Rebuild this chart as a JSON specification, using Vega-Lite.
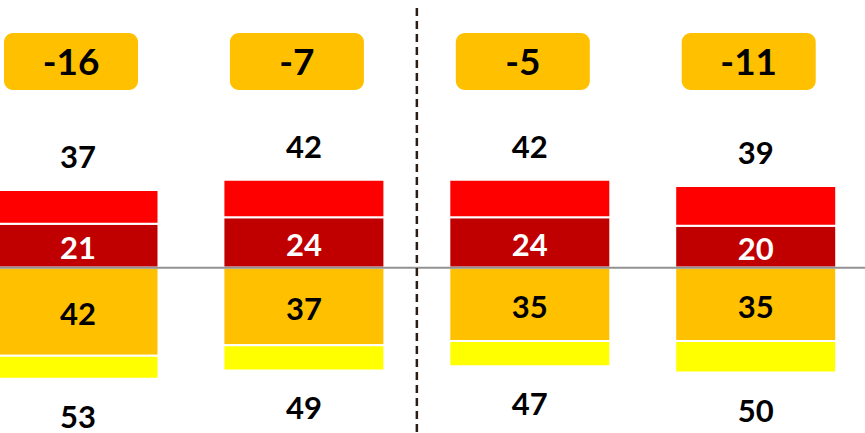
{
  "$schema": "https://vega.github.io/schema/vega-lite/v6.json",
  "width": 865,
  "height": 433,
  "padding": 0,
  "autosize": {"type": "none"},
  "background": "white",
  "config": {
    "view": {"stroke": null},
    "locale": {"number": {"decimal": ".", "thousands": ",", "grouping": [3], "currency": ["$", ""], "minus": "-"}}
  },
  "datasets": {
    "segments": [
      {"i": 0, "seg": "strong", "v": 21, "o": 1, "label": 21},
      {"i": 0, "seg": "pos", "v": 16, "o": 2, "label": 37},
      {"i": 0, "seg": "main", "v": -42, "o": 1, "label": 42},
      {"i": 0, "seg": "neg", "v": -11, "o": 2, "label": 53},
      {"i": 1, "seg": "strong", "v": 24, "o": 1, "label": 24},
      {"i": 1, "seg": "pos", "v": 18, "o": 2, "label": 42},
      {"i": 1, "seg": "main", "v": -37, "o": 1, "label": 37},
      {"i": 1, "seg": "neg", "v": -12, "o": 2, "label": 49},
      {"i": 2, "seg": "strong", "v": 24, "o": 1, "label": 24},
      {"i": 2, "seg": "pos", "v": 18, "o": 2, "label": 42},
      {"i": 2, "seg": "main", "v": -35, "o": 1, "label": 35},
      {"i": 2, "seg": "neg", "v": -12, "o": 2, "label": 47},
      {"i": 3, "seg": "strong", "v": 20, "o": 1, "label": 20},
      {"i": 3, "seg": "pos", "v": 19, "o": 2, "label": 39},
      {"i": 3, "seg": "main", "v": -35, "o": 1, "label": 35},
      {"i": 3, "seg": "neg", "v": -15, "o": 2, "label": 50}
    ],
    "groups": [
      {"i": 0, "net": -16},
      {"i": 1, "net": -7},
      {"i": 2, "net": -5},
      {"i": 3, "net": -11}
    ]
  },
  "layer": [
    {
      "data": {"name": "segments"},
      "mark": {"type": "bar", "orient": "vertical", "width": 161, "stroke": "white", "strokeWidth": 2},
      "encoding": {
        "x": {"field": "i", "type": "quantitative", "scale": {"domain": [-0.3453, 3.4838], "nice": false, "zero": false, "padding": 0}, "axis": null},
        "y": {"field": "v", "type": "quantitative", "stack": "zero", "scale": {"domain": [-78.83, 127.66], "nice": false, "zero": false, "padding": 0}, "axis": null},
        "color": {"field": "seg", "type": "nominal", "scale": {"domain": ["pos", "strong", "main", "neg"], "range": ["#FF0000", "#C00000", "#FFC000", "#FFFF00"]}, "legend": null},
        "order": {"field": "o"}
      }
    },
    {
      "data": {"values": [{}]},
      "mark": {"type": "rule", "color": "#929292", "strokeWidth": 2},
      "encoding": {"y": {"datum": 0, "type": "quantitative"}}
    },
    {
      "data": {"values": [{}]},
      "mark": {"type": "rule", "color": "#2A1D14", "strokeWidth": 2.5, "strokeDash": [8, 5]},
      "encoding": {
        "x": {"datum": 1.5, "type": "quantitative"},
        "y": {"datum": 123.8, "type": "quantitative"},
        "y2": {"datum": -78.83}
      }
    },
    {
      "data": {"name": "groups"},
      "mark": {"type": "bar", "orient": "vertical", "width": 134, "cornerRadius": 9, "xOffset": -7, "color": "#FFC000"},
      "encoding": {
        "x": {"field": "i", "type": "quantitative"},
        "y": {"datum": 111.9, "type": "quantitative"},
        "y2": {"datum": 84.8}
      }
    },
    {
      "data": {"name": "groups"},
      "mark": {"type": "text", "font": "Lato", "fontWeight": "bold", "fontSize": 37, "color": "black", "baseline": "middle", "align": "center", "xOffset": -7},
      "encoding": {
        "x": {"field": "i", "type": "quantitative"},
        "y": {"datum": 97, "type": "quantitative"},
        "text": {"field": "net", "type": "quantitative"}
      }
    },
    {
      "data": {"name": "segments"},
      "mark": {"type": "text", "font": "Lato", "fontWeight": "bold", "fontSize": 31, "baseline": "middle", "align": "center", "dy": 4.5},
      "encoding": {
        "x": {"field": "i", "type": "quantitative"},
        "y": {"field": "v", "type": "quantitative", "stack": "zero", "bandPosition": 0.5},
        "detail": {"field": "seg"},
        "order": {"field": "o"},
        "text": {"field": "label", "type": "quantitative"},
        "color": {"condition": {"test": "datum.seg == 'strong'", "value": "white"}, "value": "black"},
        "opacity": {"condition": {"test": "datum.seg == 'strong' || datum.seg == 'main'", "value": 1}, "value": 0}
      }
    },
    {
      "data": {"name": "segments"},
      "mark": {"type": "text", "font": "Lato", "fontWeight": "bold", "fontSize": 31, "baseline": "middle", "align": "center", "dy": -31, "color": "black"},
      "encoding": {
        "x": {"field": "i", "type": "quantitative"},
        "y": {"field": "v", "type": "quantitative", "stack": "zero"},
        "detail": {"field": "seg"},
        "order": {"field": "o"},
        "text": {"field": "label", "type": "quantitative"},
        "opacity": {"condition": {"test": "datum.seg == 'pos'", "value": 1}, "value": 0}
      }
    },
    {
      "data": {"name": "segments"},
      "mark": {"type": "text", "font": "Lato", "fontWeight": "bold", "fontSize": 31, "baseline": "middle", "align": "center", "dy": 40, "color": "black"},
      "encoding": {
        "x": {"field": "i", "type": "quantitative"},
        "y": {"field": "v", "type": "quantitative", "stack": "zero"},
        "detail": {"field": "seg"},
        "order": {"field": "o"},
        "text": {"field": "label", "type": "quantitative"},
        "opacity": {"condition": {"test": "datum.seg == 'neg'", "value": 1}, "value": 0}
      }
    }
  ]
}
